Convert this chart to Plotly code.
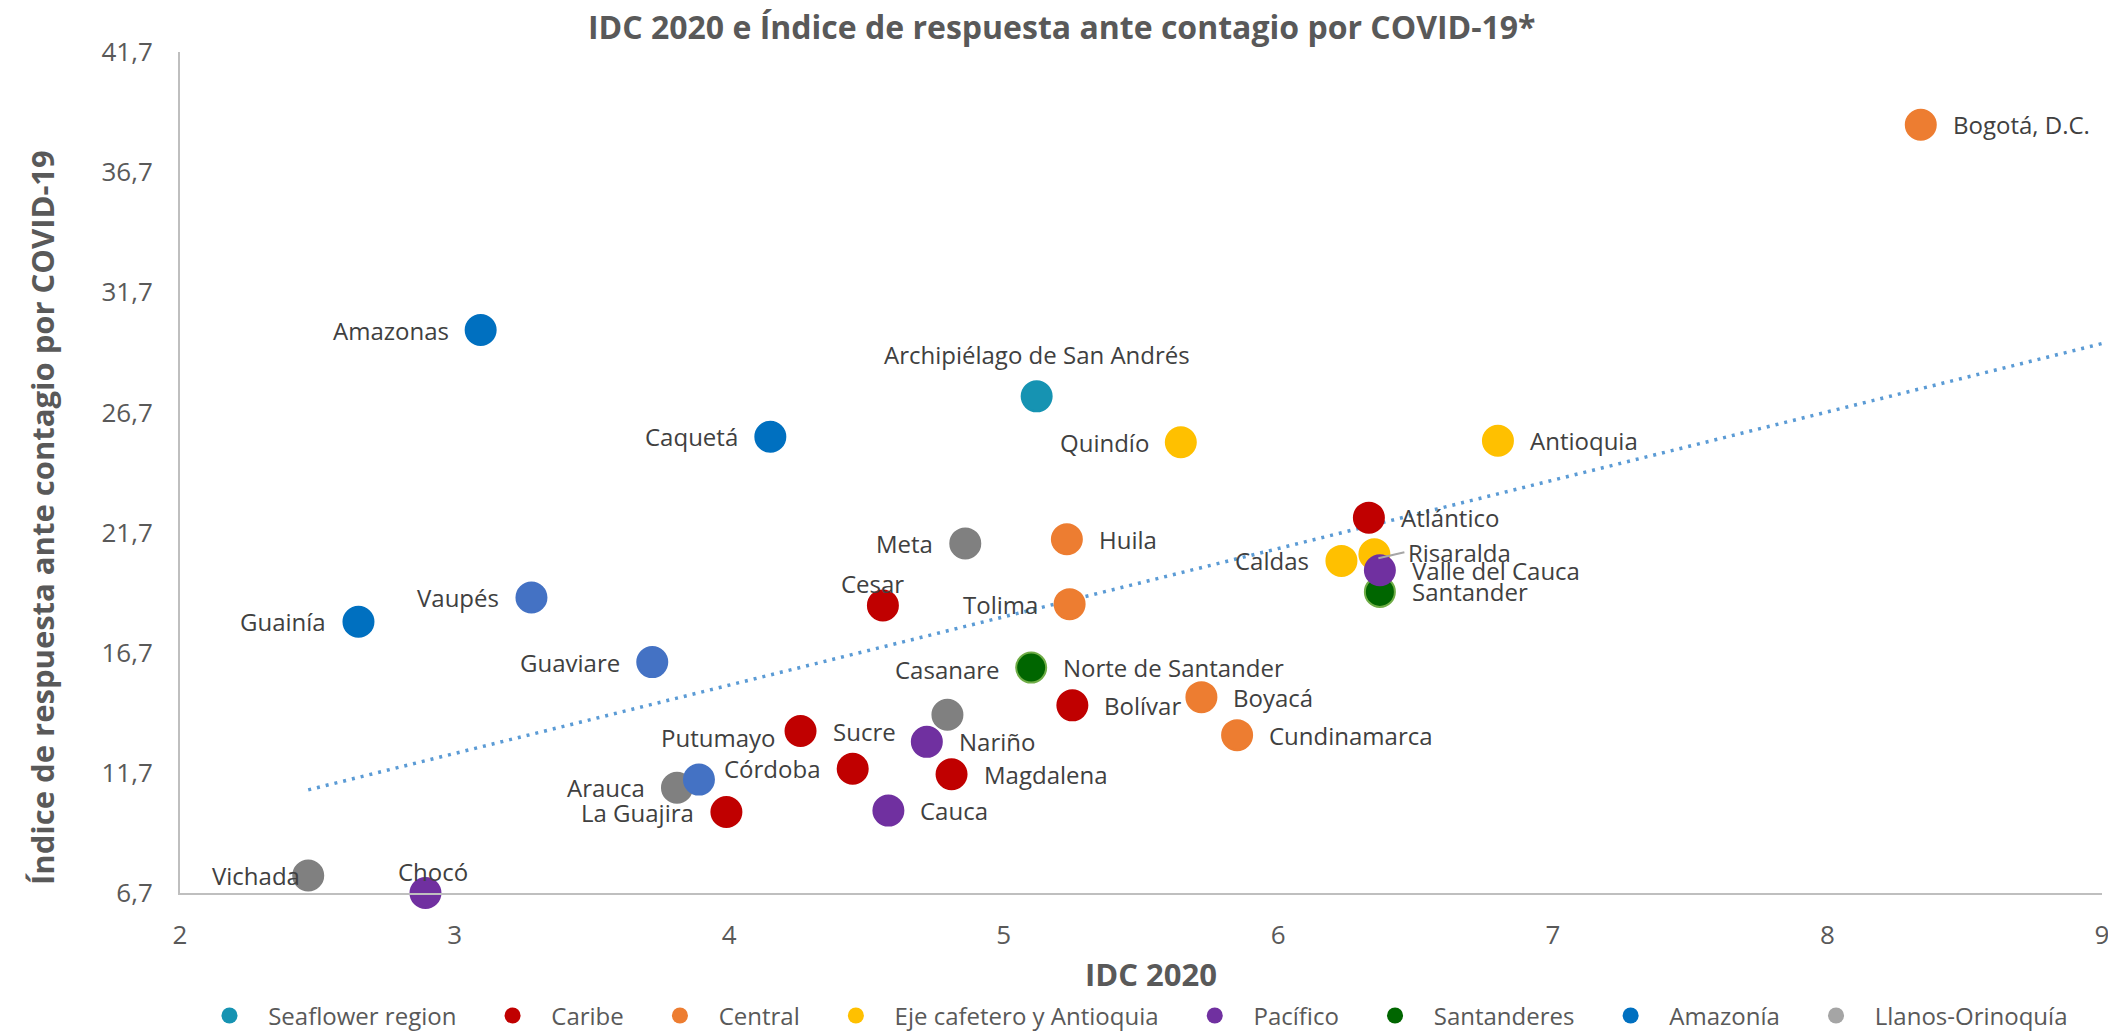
import numpy as np
import plotly.graph_objects as go

# datos
departamentos = ["Bogotá, D.C.", "Amazonas", "Archipiélago de San Andrés", "Caquetá", "Quindío",
                 "Antioquia", "Atlántico", "Meta", "Huila", "Caldas", "Santander", "Risaralda",
                 "Valle del Cauca", "Vaupés", "Cesar", "Tolima", "Guainía", "Guaviare",
                 "Norte de Santander", "Casanare", "Bolívar", "Boyacá", "Cundinamarca", "Sucre",
                 "Nariño", "Córdoba", "Magdalena", "Arauca", "Putumayo", "La Guajira", "Cauca",
                 "Vichada", "Chocó"]
idc = [8.34, 3.095, 5.12, 4.15, 5.645, 6.80, 6.33, 4.86, 5.23, 6.23, 6.37, 6.35,
       6.37, 3.28, 4.56, 5.24, 2.65, 3.72, 5.10, 4.795, 5.25, 5.72, 5.85, 4.26,
       4.72, 4.45, 4.81, 3.81, 3.89, 3.99, 4.58, 2.467, 2.894]
indice = [38.67, 30.13, 27.37, 25.69, 25.46, 25.52, 22.32, 21.25, 21.42, 20.52, 19.23, 20.8,
          20.13, 19.0, 18.67, 18.72, 17.99, 16.31, 16.08, 14.12, 14.51, 14.85, 13.27, 13.44,
          12.99, 11.87, 11.64, 11.08, 11.42, 10.07, 10.13, 7.43, 6.7]
region = ["Central", "Amazonía", "Seaflower region", "Amazonía", "Eje cafetero y Antioquia",
          "Eje cafetero y Antioquia", "Caribe", "Llanos-Orinoquía", "Central",
          "Eje cafetero y Antioquia", "Santanderes", "Eje cafetero y Antioquia", "Pacífico",
          "Amazonía", "Caribe", "Central", "Amazonía", "Amazonía", "Santanderes",
          "Llanos-Orinoquía", "Caribe", "Central", "Central", "Caribe", "Pacífico", "Caribe",
          "Caribe", "Llanos-Orinoquía", "Amazonía", "Caribe", "Pacífico", "Llanos-Orinoquía",
          "Pacífico"]

regiones = ["Seaflower region", "Caribe", "Central", "Eje cafetero y Antioquia", "Pacífico",
            "Santanderes", "Amazonía", "Llanos-Orinoquía"]

# estilos
legend_colors = {"Seaflower region": "#1693B2", "Caribe": "#C00000", "Central": "#ED7D31",
                 "Eje cafetero y Antioquia": "#FFC000", "Pacífico": "#7030A0",
                 "Santanderes": "#006600", "Amazonía": "#0070C0", "Llanos-Orinoquía": "#A5A5A5"}
point_colors = dict(legend_colors)
point_colors["Llanos-Orinoquía"] = "#808080"
color_override = {"Vaupés": "#4472C4", "Guaviare": "#4472C4", "Putumayo": "#4472C4"}
line_override = {"Santander": "#70AD47", "Norte de Santander": "#70AD47"}

# posicion de etiquetas: (xanchor, xshift, yshift)
R, L = ("left", 30, 0), ("right", -30, 0)
label_pos = {name: R for name in departamentos}
for name in ["Amazonas", "Caquetá", "Quindío", "Meta", "Caldas", "Vaupés", "Tolima", "Guainía",
             "Guaviare", "Córdoba", "Arauca", "La Guajira"]:
    label_pos[name] = L
label_pos["Archipiélago de San Andrés"] = ("center", 0, 42)
label_pos["Cesar"] = ("center", -10, 22)
label_pos["Casanare"] = ("center", 0, 45)
label_pos["Putumayo"] = ("center", 19, 42)
label_pos["Chocó"] = ("center", 8, 22)
label_pos["Vichada"] = ("right", -6, 0)
label_pos["Risaralda"] = ("left", 32, 2)

fig = go.Figure()

# tendencia lineal
m, b = np.polyfit(idc, indice, 1)
xs = np.array([min(idc), 9])
fig.add_trace(go.Scatter(x=xs, y=m * xs + b, mode="lines", showlegend=False,
                         line=dict(color="#5B9BD5", width=3.5, dash="3px,6px"), hoverinfo="skip"))

colors = [color_override.get(n, point_colors[r]) for n, r in zip(departamentos, region)]
lines = [line_override.get(n, c) for n, c in zip(departamentos, colors)]
fig.add_trace(go.Scatter(
    x=idc, y=indice, mode="markers", showlegend=False, cliponaxis=False,
    text=departamentos, hovertemplate="%{text}<br>IDC %{x}<br>%{y}<extra></extra>",
    marker=dict(size=30, color=colors, line=dict(color=lines, width=2), opacity=1)
))

pad_l = "\u00a0" * 3
pad_r = "\u00a0" * 5
for r in regiones:
    fig.add_trace(go.Scatter(x=[None], y=[None], mode="markers", name=pad_l + r + pad_r,
                             marker=dict(size=16, color=legend_colors[r])))

for name, x, y in zip(departamentos, idc, indice):
    xa, dx, dy = label_pos[name]
    fig.add_annotation(x=x, y=y, text=name, showarrow=False, xanchor=xa, yanchor="middle",
                       xshift=dx, yshift=dy, font=dict(size=24, color="#404040"))

# linea guia de Risaralda
i = departamentos.index("Risaralda")
fig.add_shape(type="line", xsizemode="pixel", ysizemode="pixel", xanchor=idc[i], yanchor=indice[i],
              x0=4, y0=-4, x1=30, y1=2, line=dict(color="#A6A6A6", width=2))

fig.add_annotation(x=-0.0718, y=0.446, xref="paper", yref="paper", textangle=-90,
                   xanchor="center", yanchor="middle",
                   text="<b>Índice de respuesta ante contagio por COVID-19</b>", showarrow=False,
                   font=dict(size=31, color="#595959"))
fig.add_annotation(x=0.505, y=-0.0963, xref="paper", yref="paper", text="<b>IDC 2020</b>",
                   xanchor="center", yanchor="middle",
                   showarrow=False, font=dict(size=31, color="#595959"))

fig.update_layout(
    width=2116, height=1033,
    margin=dict(l=172, r=22, t=44, b=148, autoexpand=False),
    paper_bgcolor="white", plot_bgcolor="white",
    separators=",.",
    font=dict(family="Open Sans, sans-serif", color="#595959"),
    title=dict(text="<b>IDC 2020 e Índice de respuesta ante contagio por COVID-19*</b>",
               x=0.498, xanchor="center", y=0.981, yanchor="middle",
               font=dict(size=32, color="#595959")),
    xaxis=dict(range=[2, 9], dtick=1, showgrid=False, zeroline=False, showline=True,
               linecolor="#BFBFBF", linewidth=2, ticks="", ticklabelstandoff=18, automargin=False,
               tickfont=dict(size=26, color="#595959")),
    yaxis=dict(range=[6.7, 41.7], tick0=6.7, dtick=5, tickformat=".1f", showgrid=False,
               zeroline=False, showline=True, linecolor="#BFBFBF", linewidth=2, ticks="",
               ticklabelstandoff=20, automargin=False, tickfont=dict(size=26, color="#595959")),
    legend=dict(orientation="h", xref="container", yref="container", x=0.543, xanchor="center",
                y=0.0243, yanchor="middle", font=dict(size=24, color="#595959"),
                itemsizing="trace"),
    showlegend=True,
)

fig.write_html("out.html")
